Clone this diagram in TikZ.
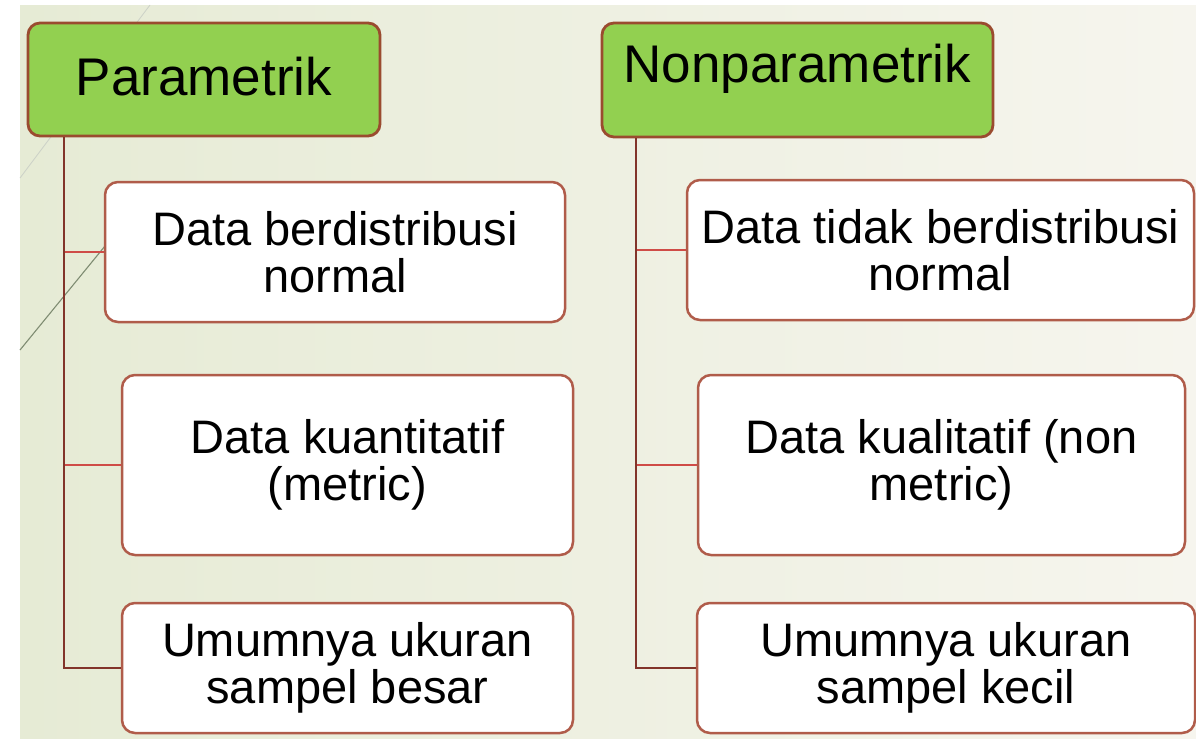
\documentclass[tikz,border=0pt]{standalone}
\usepackage{fontspec}
\setmainfont{Liberation Sans}
\usetikzlibrary{calc}

\definecolor{headgreen}{HTML}{92D050}
\definecolor{headline}{HTML}{9A4B2F}
\definecolor{boxline}{HTML}{B05C4A}
\definecolor{trunkline}{HTML}{82342A}
\definecolor{branchline}{HTML}{CF4C47}
\definecolor{bgleft}{HTML}{E6EBD5}
\definecolor{bgright}{HTML}{F6F5EE}
\definecolor{deco}{HTML}{7F8C72}

\begin{document}
\begin{tikzpicture}[x=1pt,y=-1pt,
  header/.style={draw=headline, line width=2.8pt, fill=headgreen,
    rounded corners=12pt, inner sep=0pt,
    font=\fontsize{53}{55}\selectfont},
  item/.style={draw=boxline, line width=2.5pt, fill=white,
    rounded corners=13pt, inner sep=0pt, align=center,
    font=\fontsize{47}{47.5}\selectfont},
  trunk/.style={draw=trunkline, line width=2.4pt},
  branch/.style={draw=branchline, line width=2.4pt},
]
% page and background
\useasboundingbox (0,0) rectangle (1196,744);
\fill[white] (0,0) rectangle (1196,744);
\shade[left color=bgleft, right color=bgright] (20,5) rectangle (1196,738);

% thin theme strokes at the left
\draw[deco!40, line width=0.8pt] (150,5) -- (20,178);
\draw[deco, line width=1.1pt] (105,246) -- (20,350);

% headers
\node[header, minimum width=352pt, minimum height=113pt] (P) at (204,79.5)
  {\raisebox{-15.5pt}[0pt][0pt]{Parametrik}};
\node[header, minimum width=391pt, minimum height=114pt] (N) at (797.5,80)
  {\raisebox{-2pt}[0pt][0pt]{Nonparametrik}};

% items under Parametrik
\node[item, minimum width=460pt, minimum height=140pt] (B1) at (335,252)
  {Data berdistribusi\\normal};
\node[item, minimum width=451pt, minimum height=180pt] (B2) at (347.5,465)
  {Data kuantitatif\\(metric)};
\node[item, minimum width=451pt, minimum height=130pt] (B3) at (347.5,668)
  {Umumnya ukuran\\sampel besar};

% items under Nonparametrik
\node[item, minimum width=507pt, minimum height=140pt] (B4) at (940.5,250)
  {Data tidak berdistribusi\\normal};
\node[item, minimum width=487pt, minimum height=180pt] (B5) at (941.5,465)
  {Data kualitatif (non\\metric)};
\node[item, minimum width=498pt, minimum height=130pt] (B6) at (946,668)
  {Umumnya ukuran\\sampel kecil};

% connector trunks
\coordinate (tl) at (64,0);
\coordinate (tr) at (636,0);

\draw[branch] (tl |- B1.west) -- (B1.west);
\draw[branch] (tl |- B2.west) -- (B2.west);
\draw[trunk] (tl |- P.south) |- (B3.west);

\draw[branch] (tr |- B4.west) -- (B4.west);
\draw[branch] (tr |- B5.west) -- (B5.west);
\draw[trunk] (tr |- N.south) |- (B6.west);
\end{tikzpicture}
\end{document}
